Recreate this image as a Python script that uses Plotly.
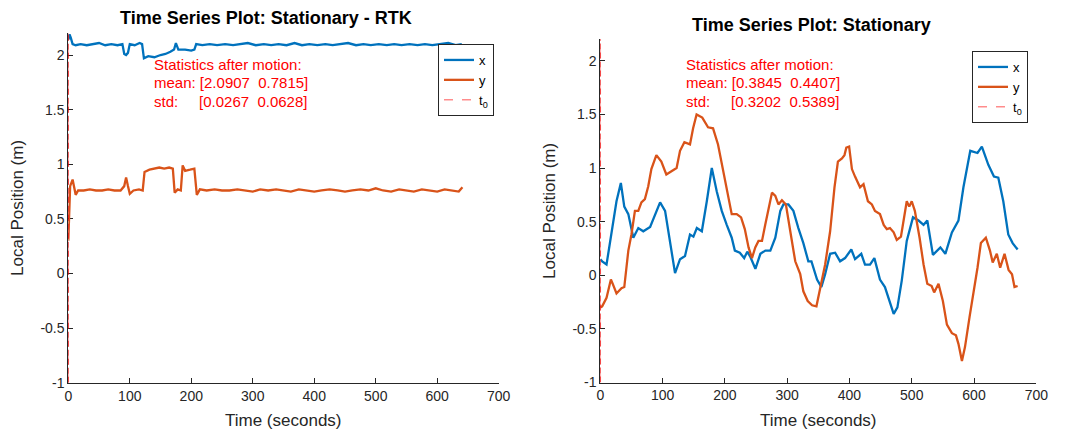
import plotly.graph_objects as go

# ---------------- data ----------------
# Left panel: Stationary - RTK
rtk_t_x = [0, 2, 4, 7, 12, 20, 30, 40, 50, 60,
           70, 80, 88, 91, 94, 97, 100, 108, 116, 120,
           123, 130, 140, 150, 158, 166, 172, 175, 179, 190,
           200, 205, 208, 218, 230, 242, 255, 268, 280, 292,
           305, 318, 330, 342, 355, 368, 380, 392, 405, 418,
           430, 442, 455, 468, 480, 492, 505, 518, 530, 542,
           555, 568, 580, 592, 605, 618, 630, 640]
rtk_x = [2.14, 2.19, 2.16, 2.10, 2.09, 2.10, 2.09, 2.10, 2.11, 2.09,
         2.10, 2.09, 2.10, 2.01, 2.00, 2.02, 2.10, 2.09, 2.11, 2.10,
         1.97, 1.99, 1.98, 2.00, 2.01, 2.03, 2.05, 2.11, 2.05, 2.05,
         2.04, 2.05, 2.10, 2.09, 2.10, 2.09, 2.10, 2.09, 2.10, 2.11,
         2.09, 2.10, 2.09, 2.10, 2.09, 2.11, 2.09, 2.10, 2.09, 2.10,
         2.09, 2.10, 2.11, 2.09, 2.10, 2.09, 2.10, 2.09, 2.10, 2.09,
         2.10, 2.09, 2.10, 2.09, 2.10, 2.11, 2.09, 2.10]
rtk_t_y = [0, 3, 7, 12, 16, 25, 35, 45, 55, 65,
           75, 85, 91, 94, 97, 100, 106, 115, 121, 124,
           132, 140, 148, 156, 164, 170, 173, 178, 183, 186,
           190, 198, 205, 209, 214, 225, 238, 250, 262, 275,
           288, 300, 312, 325, 338, 350, 362, 375, 388, 400,
           412, 425, 438, 450, 462, 475, 488, 500, 512, 525,
           538, 550, 562, 575, 588, 600, 612, 625, 635, 641]
rtk_y = [0.30, 0.80, 0.86, 0.72, 0.76, 0.76, 0.77, 0.76, 0.76, 0.77,
         0.76, 0.76, 0.80, 0.88, 0.80, 0.73, 0.76, 0.77, 0.76, 0.93,
         0.95, 0.96, 0.97, 0.96, 0.97, 0.96, 0.74, 0.77, 0.76, 0.99,
         0.94, 0.95, 0.96, 0.72, 0.77, 0.76, 0.77, 0.76, 0.76, 0.77,
         0.76, 0.75, 0.77, 0.76, 0.77, 0.76, 0.75, 0.77, 0.76, 0.75,
         0.76, 0.77, 0.76, 0.75, 0.76, 0.77, 0.76, 0.78, 0.76, 0.75,
         0.77, 0.76, 0.75, 0.77, 0.76, 0.75, 0.77, 0.76, 0.75, 0.79]

# Right panel: Stationary
st_t_x = [0, 3, 10, 18, 26, 33, 38.5, 45, 53, 61,
          69, 80, 88, 96, 104, 112, 120, 128, 136, 144,
          149.5, 155, 163, 171, 179, 187, 195, 203, 211, 216,
          224, 231, 236, 241, 249, 257, 265, 273, 281, 289,
          294, 302, 310, 318, 326, 334, 339, 348, 355, 361,
          369, 377, 385, 393, 403, 409, 419, 425, 433, 440,
          449, 457, 465.5, 471, 477, 484, 492, 502, 511, 519,
          525, 534, 546, 554, 564.5, 575, 583, 594, 605.6, 612.6,
          623, 632, 639, 647, 655, 662, 670]
st_x = [0.15, 0.13, 0.10, 0.41, 0.69, 0.86, 0.64, 0.57, 0.35, 0.44,
        0.41, 0.45, 0.57, 0.68, 0.60, 0.29, 0.02, 0.15, 0.18, 0.38,
        0.36, 0.44, 0.41, 0.69, 1.00, 0.78, 0.60, 0.47, 0.35, 0.23,
        0.21, 0.16, 0.22, 0.17, 0.06, 0.20, 0.23, 0.23, 0.35, 0.60,
        0.66, 0.66, 0.60, 0.44, 0.30, 0.13, 0.13, -0.04, -0.11, 0.01,
        0.20, 0.21, 0.13, 0.16, 0.24, 0.15, 0.20, 0.10, 0.10, 0.16,
        -0.04, -0.11, -0.27, -0.36, -0.30, -0.05, 0.32, 0.54, 0.51, 0.47,
        0.51, 0.19, 0.26, 0.20, 0.40, 0.51, 0.82, 1.16, 1.14, 1.20,
        1.03, 0.92, 0.91, 0.69, 0.38, 0.30, 0.24]
st_t_y = [0, 3, 10, 17, 20, 26, 34, 38.5, 45, 50,
          55.6, 61, 66, 71.6, 77, 82, 90, 98, 106, 114,
          122.5, 128, 135, 144, 149, 154.6, 163.7, 173, 181, 189,
          197, 204, 211, 219, 226, 232, 238, 243.5, 248.8, 254,
          259.6, 264.8, 270, 275.6, 281, 286, 291.6, 298, 305, 313,
          321, 326, 333, 340, 347, 353, 361, 369, 376, 381.5,
          388, 392, 395, 399.5, 404, 409, 417, 422.6, 429.7, 436,
          441, 449, 455, 460, 465, 471, 476, 482.7, 487, 492,
          496, 500, 505, 512.6, 519, 525, 532, 536, 543, 550,
          556.5, 564.5, 571, 575, 580.6, 585.5, 592.8, 599, 605.6, 611,
          619, 625.6, 630, 636.6, 642, 649, 655.5, 661, 665, 670]
st_y = [-0.30, -0.29, -0.21, -0.04, -0.08, -0.17, -0.12, -0.11, 0.23, 0.38,
        0.60, 0.60, 0.68, 0.71, 0.83, 0.99, 1.12, 1.06, 0.94, 0.97,
        1.00, 1.16, 1.24, 1.22, 1.37, 1.50, 1.47, 1.38, 1.37, 1.22,
        0.99, 0.78, 0.57, 0.57, 0.54, 0.43, 0.26, 0.16, 0.26, 0.32,
        0.32, 0.47, 0.60, 0.77, 0.74, 0.66, 0.70, 0.66, 0.41, 0.13,
        0.01, -0.15, -0.24, -0.28, -0.29, -0.13, 0.10, 0.41, 0.82, 1.06,
        1.09, 1.12, 1.19, 1.20, 0.99, 0.92, 0.82, 0.85, 0.69, 0.66,
        0.60, 0.57, 0.47, 0.43, 0.44, 0.40, 0.33, 0.36, 0.52, 0.69,
        0.64, 0.69, 0.60, 0.35, 0.10, -0.08, -0.10, -0.16, -0.08, -0.24,
        -0.46, -0.54, -0.56, -0.64, -0.80, -0.67, -0.39, -0.18, 0.07, 0.30,
        0.35, 0.23, 0.12, 0.20, 0.07, 0.20, 0.05, 0.01, -0.11, -0.10]

T0 = 0
Y_RANGE = [-1, 2.2]
X_RANGE = [0, 700]
x_ticks = [0, 100, 200, 300, 400, 500, 600, 700]
y_ticks = [-1, -0.5, 0, 0.5, 1, 1.5, 2]
y_tick_text = ["-1", "-0.5", "0", "0.5", "1", "1.5", "2"]

rtk_mean = ["2.0907", "0.7815"]
rtk_std = ["0.0267", "0.0628"]
st_mean = ["0.3845", "0.4407"]
st_std = ["0.3202", "0.5389"]

titles = ["Time Series Plot: Stationary - RTK", "Time Series Plot: Stationary"]

# ---------------- styling ----------------
W, H = 1065, 430
BLUE = "#0072BD"
ORANGE = "#D95319"
T0COL = "rgba(255,0,0,0.45)"
AX = "#262626"
FONT = "Liberation Sans, Arial, Helvetica, sans-serif"


def px_x(p):
    return p / W


def px_y(p):
    return 1 - p / H


fig = go.Figure()

panels = [
    dict(xa="x", ya="y", leg="legend", tx=rtk_t_x, vx=rtk_x, ty=rtk_t_y, vy=rtk_y),
    dict(xa="x2", ya="y2", leg="legend2", tx=st_t_x, vx=st_x, ty=st_t_y, vy=st_y),
]
shapes = []
for p in panels:
    fig.add_trace(go.Scatter(x=p["tx"], y=p["vx"], mode="lines", name="x",
                             line=dict(color=BLUE, width=2.3),
                             xaxis=p["xa"], yaxis=p["ya"], legend=p["leg"]))
    fig.add_trace(go.Scatter(x=p["ty"], y=p["vy"], mode="lines", name="y",
                             line=dict(color=ORANGE, width=2.3),
                             xaxis=p["xa"], yaxis=p["ya"], legend=p["leg"]))
    fig.add_trace(go.Scatter(x=[T0, T0], y=Y_RANGE, mode="lines", name="t<sub>0</sub>",
                             line=dict(color=T0COL, width=1.5, dash="dash"),
                             xaxis=p["xa"], yaxis=p["ya"], legend=p["leg"]))
    # the t0 marker drawn unclipped on top of the axis line
    shapes.append(dict(type="line", xref=p["xa"], yref=p["ya"], x0=T0, x1=T0,
                       y0=Y_RANGE[0], y1=Y_RANGE[1], layer="above",
                       line=dict(color="rgba(235,0,0,0.85)", width=1.4, dash="6px,3px")))

# axis geometry (pixels)
left_dom_x = [68.3, 498.7]
left_dom_y = [382.7, 33.2]
right_dom_x = [600.3, 1036.3]
right_dom_y = [382.5, 39.3]

axis_common = dict(showline=True, linecolor=AX, linewidth=1, mirror=False,
                   ticks="inside", ticklen=5, tickcolor=AX, tickwidth=1,
                   showgrid=False, zeroline=False, layer="below traces",
                   automargin=False,
                   tickfont=dict(family=FONT, size=14, color=AX))

leg_common = dict(xanchor="left", yanchor="top",
                  bordercolor=AX, borderwidth=1, bgcolor="white",
                  font=dict(family=FONT, size=13, color="#000000"),
                  tracegroupgap=0, itemwidth=30)

fig.update_layout(
    width=W, height=H,
    margin=dict(l=0, r=0, t=0, b=0, autoexpand=False),
    paper_bgcolor="white", plot_bgcolor="white",
    font=dict(family=FONT, color=AX),
    xaxis=dict(domain=[px_x(left_dom_x[0]), px_x(left_dom_x[1])], range=X_RANGE,
               tickvals=x_ticks, anchor="y", **axis_common),
    yaxis=dict(domain=[px_y(left_dom_y[0]), px_y(left_dom_y[1])], range=Y_RANGE,
               tickvals=y_ticks, ticktext=y_tick_text, anchor="x", **axis_common),
    xaxis2=dict(domain=[px_x(right_dom_x[0]), px_x(right_dom_x[1])], range=X_RANGE,
                tickvals=x_ticks, anchor="y2", **axis_common),
    yaxis2=dict(domain=[px_y(right_dom_y[0]), px_y(right_dom_y[1])], range=Y_RANGE,
                tickvals=y_ticks, ticktext=y_tick_text, anchor="x2", **axis_common),
    legend=dict(x=px_x(438), y=px_y(44), **leg_common),
    legend2=dict(x=px_x(972), y=px_y(51), **leg_common),
    showlegend=True,
    shapes=shapes,
)

NB = "\u00a0"


def stats_lines(mean, std):
    return ["Statistics after motion:",
            f"mean: [{mean[0]}{NB}{NB}{mean[1]}]",
            f"std:{NB * 5}[{std[0]}{NB}{NB}{std[1]}]"]


annotations = []
# stats (one annotation per line for exact line spacing)
for x0, (mean, std) in [(152, (rtk_mean, rtk_std)), (684, (st_mean, st_std))]:
    for i, line in enumerate(stats_lines(mean, std)):
        annotations.append(dict(x=px_x(x0), y=px_y(64 + 18.5 * i), xref="paper", yref="paper",
                                xanchor="left", yanchor="middle", align="left", showarrow=False,
                                text=line,
                                font=dict(family=FONT, size=15, color="#FF0000")))
# titles
annotations.append(dict(x=px_x(266), y=px_y(18), xref="paper", yref="paper",
                        xanchor="center", yanchor="middle", showarrow=False,
                        text=f"<b>{titles[0]}</b>",
                        font=dict(family=FONT, size=18, color="#000000")))
annotations.append(dict(x=px_x(812), y=px_y(25), xref="paper", yref="paper",
                        xanchor="center", yanchor="middle", showarrow=False,
                        text=f"<b>{titles[1]}</b>",
                        font=dict(family=FONT, size=18, color="#000000")))
# axis titles
for cx in [(left_dom_x[0] + left_dom_x[1]) / 2, (right_dom_x[0] + right_dom_x[1]) / 2]:
    annotations.append(dict(x=px_x(cx), y=px_y(420), xref="paper", yref="paper",
                            xanchor="center", yanchor="middle", showarrow=False,
                            text="Time (seconds)",
                            font=dict(family=FONT, size=17, color=AX)))
for cx, dy in [(18, left_dom_y), (550, right_dom_y)]:
    annotations.append(dict(x=px_x(cx), y=px_y((dy[0] + dy[1]) / 2), xref="paper", yref="paper",
                            xanchor="center", yanchor="middle", showarrow=False,
                            textangle=-90, text="Local Position (m)",
                            font=dict(family=FONT, size=17, color=AX)))

fig.update_layout(annotations=annotations)

fig.write_html("out.html", config={"displayModeBar": False},
               post_script="document.body.style.margin='0';document.body.style.overflow='hidden';")
